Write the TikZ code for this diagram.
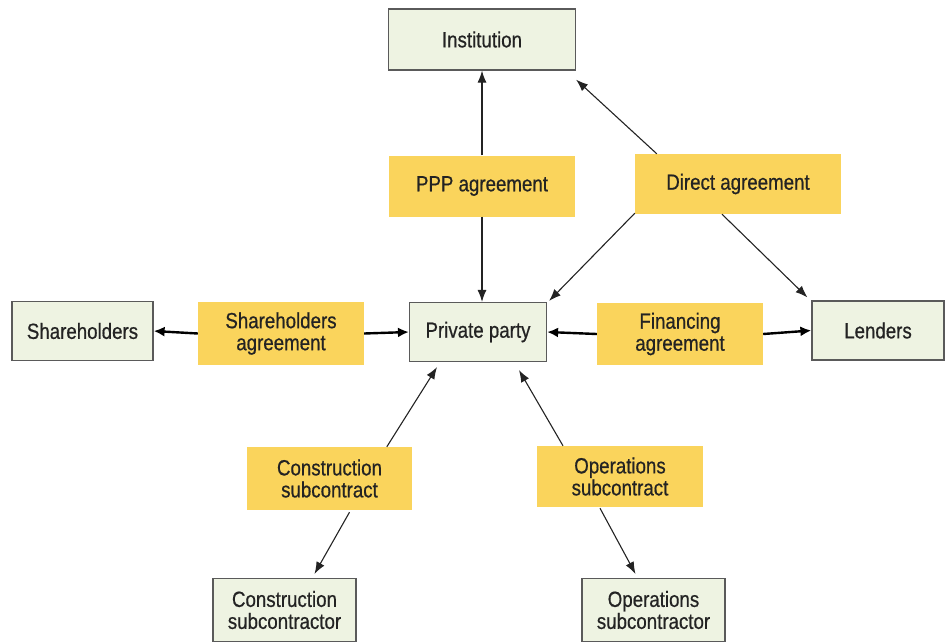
\documentclass[tikz,border=0pt]{standalone}
\usepackage{fontspec}
\setmainfont{Liberation Sans}[FakeStretch=0.85,FakeBold=0.6]
\usetikzlibrary{arrows.meta}
\definecolor{boxgreen}{RGB}{238,243,226}
\definecolor{boxline}{RGB}{90,90,90}
\definecolor{agree}{RGB}{250,212,92}
\definecolor{txt}{RGB}{35,35,35}
\begin{document}
\begin{tikzpicture}[x=1pt,y=-1pt,
  party/.style={draw=boxline,line width=1.2pt,fill=boxgreen,inner sep=0pt,text=txt,align=center,font=\fontsize{22}{22}\selectfont},
  agreement/.style={fill=agree,inner sep=0pt,text=txt,align=center,font=\fontsize{22}{22}\selectfont},
  thin/.style={draw=txt,line width=1.1pt,-{Latex[length=12pt,width=9pt]}},
  thick/.style={draw=black,line width=2.4pt,-{Latex[length=11pt,width=10pt]}}]
\useasboundingbox (0,0) rectangle (945,641);
% parties
\node[party,minimum width=187,minimum height=61] (inst) at (482,39.5) {Institution};
\node[party,minimum width=141,minimum height=59] (share) at (82.5,331) {Shareholders};
\node[party,minimum width=137,minimum height=59] (pp) at (478,332) {Private party};
\node[party,minimum width=132,minimum height=59] (lend) at (878,330.5) {Lenders};
\node[party,minimum width=143,minimum height=63] (csub) at (284.5,610) {Construction\\subcontractor};
\node[party,minimum width=143,minimum height=63] (osub) at (653.5,610) {Operations\\subcontractor};
% agreements
\node[agreement,minimum width=186,minimum height=61] (ppp) at (482,186) {PPP agreement};
\node[agreement,minimum width=206,minimum height=60] (direct) at (738,184) {Direct agreement};
\node[agreement,minimum width=166,minimum height=63] (sha) at (281,333.5) {Shareholders\\agreement};
\node[agreement,minimum width=166,minimum height=62] (fin) at (680,334) {Financing\\agreement};
\node[agreement,minimum width=165,minimum height=63] (cons) at (329.5,478.5) {Construction\\subcontract};
\node[agreement,minimum width=166,minimum height=61] (ops) at (620,476.5) {Operations\\subcontract};
% connectors
\draw[thin] (ppp.north) -- (inst.south);
\draw[thin] (ppp.south) -- ([xshift=4pt]pp.north);
\draw[thin] ([xshift=22pt]direct.north west) -- ([yshift=-9pt]inst.south east);
\draw[thin] ([yshift=1pt]direct.south west) -- ([xshift=2pt,yshift=1pt]pp.north east);
\draw[thin] ([xshift=-16pt]direct.south) -- ([xshift=-4pt,yshift=3pt]lend.north west);
\draw[thick] (sha.west) -- (share.east);
\draw[thick] (sha.east) -- (pp.west);
\draw[thick] (fin.west) -- (pp.east);
\draw[thick] (fin.east) -- (lend.west);
\draw[thin] ([xshift=140pt]cons.north west) -- ([xshift=-41pt,yshift=-5pt]pp.south);
\draw[thin] ([xshift=20pt,yshift=-2pt]cons.south) -- ([xshift=30pt,yshift=4pt]csub.north);
\draw[thin] ([xshift=-57pt]ops.north) -- ([xshift=41pt,yshift=-8pt]pp.south);
\draw[thin] ([xshift=-20pt,yshift=-1pt]ops.south) -- ([xshift=-18pt,yshift=4pt]osub.north);
\end{tikzpicture}
\end{document}
